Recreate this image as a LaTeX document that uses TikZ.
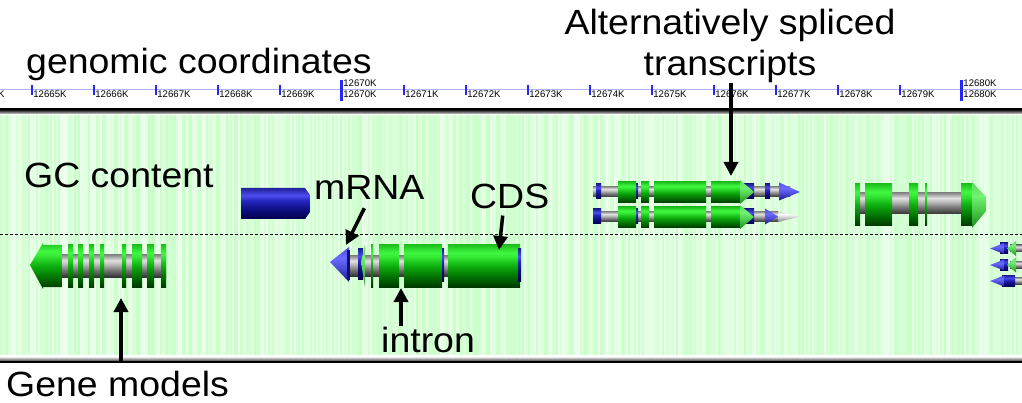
\documentclass[tikz,border=0pt]{standalone}
\usepackage{fontspec}
\setmainfont{Liberation Sans}
\usetikzlibrary{arrows.meta,calc}
\definecolor{tickblue}{rgb}{0.15,0.15,1}
\definecolor{rulerblue}{rgb}{0.7,0.7,1}
\definecolor{navyedge}{rgb}{0.05,0.05,0.45}
\pgfdeclareverticalshading{shExon}{100bp}{rgb(0bp)=(0,0.2,0); rgb(25bp)=(0,0.22,0); rgb(35bp)=(0,0.4,0); rgb(50bp)=(0.05,0.68,0.05); rgb(62bp)=(0.22,0.93,0.22); rgb(66bp)=(0.25,0.97,0.25); rgb(75bp)=(0.12,0.76,0.12); rgb(100bp)=(0.12,0.76,0.12)}
\pgfdeclareverticalshading{shIntron}{100bp}{rgb(0bp)=(0.2,0.2,0.2); rgb(25bp)=(0.2,0.2,0.2); rgb(40bp)=(0.45,0.45,0.45); rgb(55bp)=(0.75,0.75,0.75); rgb(63bp)=(0.88,0.88,0.88); rgb(75bp)=(0.55,0.55,0.55); rgb(100bp)=(0.55,0.55,0.55)}
\pgfdeclareverticalshading{shUtr}{100bp}{rgb(0bp)=(0,0,0.3); rgb(25bp)=(0,0,0.3); rgb(40bp)=(0.05,0.05,0.5); rgb(55bp)=(0.15,0.15,0.75); rgb(63bp)=(0.3,0.3,0.95); rgb(75bp)=(0.13,0.13,0.6); rgb(100bp)=(0.13,0.13,0.6)}
\pgfdeclareverticalshading{shHeadG}{100bp}{rgb(0bp)=(0.1,0.55,0.1); rgb(25bp)=(0.1,0.55,0.1); rgb(45bp)=(0.3,0.8,0.3); rgb(60bp)=(0.45,0.95,0.45); rgb(75bp)=(0.35,0.85,0.35); rgb(100bp)=(0.35,0.85,0.35)}
\pgfdeclareverticalshading{shHeadB}{100bp}{rgb(0bp)=(0.1,0.1,0.5); rgb(25bp)=(0.1,0.1,0.5); rgb(45bp)=(0.3,0.3,0.85); rgb(60bp)=(0.42,0.42,1); rgb(75bp)=(0.3,0.3,0.9); rgb(100bp)=(0.3,0.3,0.9)}
\pgfdeclareverticalshading{shTip}{100bp}{rgb(0bp)=(0.5,0.5,0.5); rgb(25bp)=(0.5,0.5,0.5); rgb(50bp)=(0.85,0.85,0.85); rgb(63bp)=(1,1,1); rgb(75bp)=(0.8,0.8,0.8); rgb(100bp)=(0.8,0.8,0.8)}
\newcommand\lblw[1]{\scalebox{1.07}[1]{#1}}
\tikzset{
  exonsh/.style={shading=shExon},
  intronsh/.style={shading=shIntron},
  utrsh/.style={shading=shUtr},
  headgsh/.style={shading=shHeadG},
  headbsh/.style={shading=shHeadB},
  tipsh/.style={shading=shTip},
  lbl/.style={inner sep=0pt, anchor=base west, font=\fontsize{35}{41}\selectfont},
  lblarrow/.style={line width=3.5pt, -{Triangle[length=14pt,width=14pt]}},
  ticklbl/.style={inner sep=0pt, anchor=base west, font=\fontsize{9.6}{10}\selectfont},
}
\begin{document}
\begin{tikzpicture}[x=1pt,y=-1pt]
\useasboundingbox (0,0) rectangle (1022,403);
\begin{scope}
\clip (0,0) rectangle (1022,403);
\fill[white] (0,0) rectangle (1022,403);
% ruler
\draw[rulerblue, line width=1pt] (0,90) -- (1022,90);
\foreach \k in {-1,...,15}{
  \pgfmathsetmacro\tx{31.7+62*\k}
  \pgfmathtruncatemacro\num{12665+\k}
  \fill[tickblue] (\tx-1,85) rectangle (\tx+1,95);
  \node[ticklbl] (t\k) at (\tx+1.5,98) {\num K};
}
\foreach \k in {5,15}{
  \pgfmathsetmacro\tx{31.7+62*\k}
  \pgfmathtruncatemacro\num{12665+\k}
  \fill[tickblue] (\tx-1.3,80) rectangle (\tx+1.3,101);
  \node[ticklbl] (tu\k) at (\tx+1.5,87) {\num K};
}
% track frame
\fill[black] (0,108) rectangle (1022,111);
\shade[top color=gray!55!black, bottom color=gray!15] (0,111) rectangle (1022,114.5);
\fill[white] (0,114.5) rectangle (1022,115.5);
\pgfmathsetseed{17}
\foreach \i in {0,...,510}{
  \pgfmathsetmacro\p{7+15*rnd}
  \fill[green!\p!white] (2*\i,115.5) rectangle ++(2,239.5);
}
\fill[white] (0,355) rectangle (1022,357);
\shade[top color=gray!15, bottom color=gray!55!black] (0,357) rectangle (1022,361);
\fill[black] (0,361) rectangle (1022,363);
\draw[black, line width=1pt, dash pattern=on 3pt off 2pt] (0,235) -- (1022,235);

% gene 1 (reverse)
\shade[intronsh] (62,255) rectangle (166,277);
\shade[exonsh] (30,265) -- (43,243) -- (43,245) -- (62,245) -- (62,287) -- (43,287) -- (43,289) -- cycle;
\foreach \a/\b in {68/73,78/83,89/94,100/104,122/126,132/142,147/154,161/166}{
  \shade[exonsh] (\a,245) rectangle (\b,287);
}
% blue box
\shade[utrsh] (241,188) -- (305,188) -- (310,195) -- (310,212) -- (305,219) -- (241,219) -- cycle;

% gene 2 (reverse)
\shade[intronsh] (349,256) rectangle (520,276);
\shade[headbsh] (330,262) -- (349,247) -- (349,282) -- cycle;
\fill[navyedge] (347,250) rectangle (350,280);
\shade[utrsh] (358,249) rectangle (363,279);
\shade[headgsh] (361,262) -- (365,245) -- (365,287) -- cycle;
\shade[exonsh] (371,245) rectangle (373,287);
\shade[exonsh] (379,245) rectangle (399,287);
\shade[exonsh] (404,245) rectangle (442,287);
\shade[utrsh] (442,249) rectangle (444,281);
\shade[exonsh] (448,245) rectangle (520,287);
\shade[utrsh] (518,249) rectangle (521,281);

% gene 3, transcript A
\shade[intronsh] (593,186.5) rectangle (790,197);
\shade[utrsh] (596,184) rectangle (601,199);
\shade[utrsh] (636,184) rectangle (638,199);
\foreach \a/\b in {618/636,641/649,654/706,711/740}{
  \shade[exonsh] (\a,182) rectangle (\b,203);
}
\shade[utrsh] (743,184) rectangle (754,199);
\shade[headgsh] (740,180) -- (754,192) -- (740,204) -- cycle;
\shade[utrsh] (765,184) rectangle (770,199);
\shade[headbsh] (779,182.5) -- (800,192) -- (779,200.5) -- cycle;
% gene 3, transcript B
\shade[intronsh] (593,211.5) rectangle (778,222);
\shade[utrsh] (593,209) rectangle (601,224);
\shade[utrsh] (636,209) rectangle (638,224);
\foreach \a/\b in {618/636,641/649,654/706,711/740}{
  \shade[exonsh] (\a,207) rectangle (\b,228);
}
\shade[utrsh] (743,209) rectangle (754,224);
\shade[headgsh] (740,205) -- (754,217) -- (740,229) -- cycle;
\shade[headbsh] (765,208.5) -- (778,216.5) -- (765,224.5) -- cycle;
\shade[tipsh] (778,211.5) -- (800,216.5) -- (778,222) -- cycle;

% gene 4 (forward)
\shade[intronsh] (857,193) rectangle (961,214);
\foreach \a/\b in {855/860,865/892,909/918,925/927,961/973}{
  \shade[exonsh] (\a,184) rectangle (\b,226);
}
\shade[headgsh] (972,182) -- (986,197) -- (986,211) -- (972,228) -- cycle;

% gene 5 (reverse, three transcripts)
\foreach \c in {248.5,265}{
  \shade[intronsh] (1010,\c-3.5) rectangle (1022,\c+3.5);
  \shade[utrsh] (1000,\c-5.5) rectangle (1008,\c+5.5);
  \shade[headbsh] (990,\c) -- (1004,\c-5.5) -- (1004,\c+5.5) -- cycle;
  \shade[headgsh] (1007,\c) -- (1016,\c-7.5) -- (1016,\c+7.5) -- cycle;
}
\shade[intronsh] (1012,277.5) rectangle (1022,284.5);
\shade[utrsh] (1002,275.5) rectangle (1015,286.5);
\shade[headbsh] (990,281) -- (1004,275.5) -- (1004,286.5) -- cycle;
\end{scope}

% labels
\node[lbl] (gc) at (26,74) {\lblw{genomic coordinates}};
\node[lbl, anchor=north, align=center] (tr) at (730,9) {\lblw{Alternatively spliced}\\\lblw{transcripts}};
\node[lbl] (gcc) at (24,188) {\lblw{GC content}};
\node[lbl] (mrna) at (314,200) {\lblw{mRNA}};
\node[lbl] (cds) at (470,209) {\lblw{CDS}};
\node[lbl] (intr) at (381,352) {\lblw{intron}};
\node[lbl] (gm) at (6,396) {\lblw{Gene models}};

\coordinate (trtip) at (731,176);
\coordinate (mrnatip) at (346,245);
\coordinate (cdstip) at (499,250);
\coordinate (introntip) at (401,288);
\coordinate (gmtip) at (121,298);

\draw[lblarrow] (tr.south -| trtip) -- (trtip);
\draw[lblarrow] ($(mrna.south)+(-5,8)$) -- (mrnatip);
\draw[lblarrow] ($(cds.south)+(-7,6)$) -- (cdstip);
\draw[lblarrow] (intr.north -| introntip) -- (introntip);
\draw[lblarrow] ($(gm.north -| gmtip)+(0,-8)$) -- (gmtip);
\end{tikzpicture}
\end{document}
